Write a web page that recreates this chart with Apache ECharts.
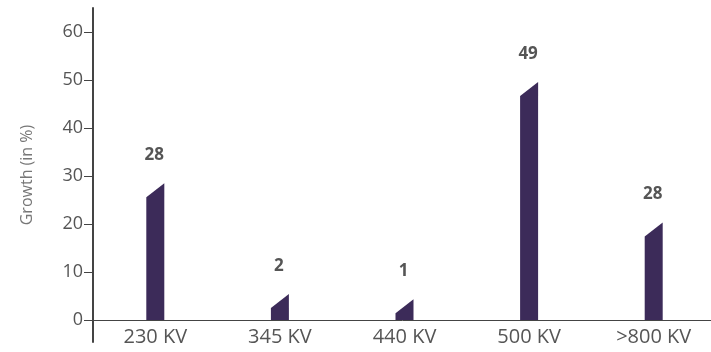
<!DOCTYPE html>
<html>
<head>
<meta charset="utf-8">
<script src="https://cdn.jsdelivr.net/npm/echarts@6/dist/echarts.min.js"></script>
<style>
  html, body { margin: 0; padding: 0; background: #fff; }
  #main { width: 711px; height: 352px; }
</style>
</head>
<body>
<div id="main"></div>
<script>
// categories and values
var categories = ['230 KV', '345 KV', '440 KV', '500 KV', '>800 KV'];
var barHeights = [28.5, 5.4, 4.3, 49.6, 20.3];   // drawn height (top right corner)
var valueLabels = ['28', '2', '1', '49', '28'];   // printed value above each bar
var yTicks = [0, 10, 20, 30, 40, 50, 60];

var chart = echarts.init(document.getElementById('main'), null, { renderer: 'canvas' });

var axisColor = '#444';
var textColor = '#555';
var font = '"Open Sans", sans-serif';

function renderBar(params, api) {
  var i = api.value(0);
  var v = api.value(1);
  var top = api.coord([i, v]);
  var base = api.coord([i, 0]);
  var w = 18, slant = 14;
  var x0 = top[0] - w / 2, x1 = top[0] + w / 2;
  return {
    type: 'group',
    children: [{
      type: 'polygon',
      shape: { points: [[x0, base[1]], [x0, top[1] + slant], [x1, top[1]], [x1, base[1]]] },
      style: { fill: '#3c2b59' }
    }, {
      type: 'text',
      style: {
        text: valueLabels[params.dataIndex],
        x: top[0] - 1,
        y: top[1] - 28,
        align: 'center',
        verticalAlign: 'middle',
        fontSize: 17,
        fontWeight: 'bold',
        fontFamily: font,
        fill: textColor
      }
    }]
  };
}

var option = {
  animation: false,
  grid: [
    // main plot
    { left: 93, right: -5, top: 8, bottom: 32, outerBoundsMode: 'none', containLabel: false },
    // only carries the y axis line that runs below the x axis
    { left: 93, right: -5, top: 8, bottom: 10, outerBoundsMode: 'none', containLabel: false }
  ],
  xAxis: [{
    gridIndex: 0,
    type: 'category',
    data: categories,
    axisLine: { lineStyle: { color: axisColor, width: 1 } },
    axisTick: { length: 8, lineStyle: { color: axisColor } },
    axisLabel: { color: textColor, fontSize: 20, fontFamily: font, margin: 7 }
  }, {
    gridIndex: 1,
    type: 'category',
    data: categories,
    show: false
  }],
  yAxis: [{
    gridIndex: 0,
    type: 'value',
    min: 0,
    max: 65,
    axisLine: { show: false },
    axisTick: { show: true, length: 9, customValues: yTicks, lineStyle: { color: axisColor } },
    axisLabel: { customValues: yTicks, color: textColor, fontSize: 18, fontFamily: font, margin: 10 },
    splitLine: { show: false }
  }, {
    gridIndex: 1,
    type: 'value',
    min: 0,
    max: 65,
    name: 'Growth (in %)',
    nameLocation: 'middle',
    nameGap: 58,
    nameTextStyle: { color: '#777', fontSize: 16, fontFamily: font },
    axisLine: { show: true, lineStyle: { color: axisColor, width: 2 } },
    axisTick: { show: false },
    axisLabel: { show: false },
    splitLine: { show: false }
  }],
  series: [{
    type: 'custom',
    xAxisIndex: 0,
    yAxisIndex: 0,
    renderItem: renderBar,
    data: barHeights.map(function (v, i) { return [i, v]; })
  }]
};

chart.setOption(option);
</script>
</body>
</html>
